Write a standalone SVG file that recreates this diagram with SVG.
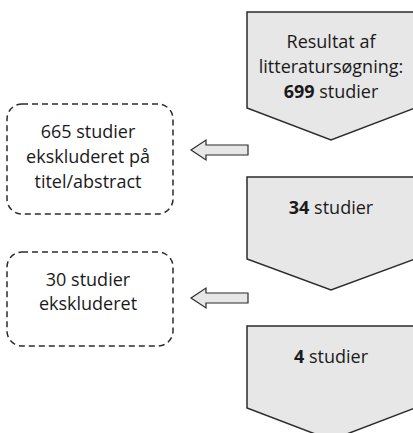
<svg xmlns="http://www.w3.org/2000/svg" width="413" height="433" viewBox="0 0 413 433">
<style>
.step{fill:#e7e7e8;stroke:#2b2b2b;stroke-width:1.5}
.excl{fill:#ffffff;stroke:#2b2b2b;stroke-width:1.5;stroke-dasharray:6 4}
.arr{fill:#e7e7e8;stroke:#2b2b2b;stroke-width:1.2}
text{font-family:"Open Sans","Liberation Sans",sans-serif;font-size:18px;fill:#1a1a1a;text-anchor:middle}
.b{font-weight:bold}
</style>
<rect width="413" height="433" fill="#ffffff"/>
<g id="step1">
<polygon class="step" points="247,12 415,12 415,108 331,140 247,108"/>
<text x="331" y="48">Resultat af</text>
<text x="331" y="73">litteratursøgning:</text>
<text x="331" y="98"><tspan class="b">699</tspan> studier</text>
</g>
<g id="step2">
<polygon class="step" points="247,177 415,177 415,259 331,290 247,259"/>
<text x="331" y="214"><tspan class="b">34</tspan> studier</text>
</g>
<g id="step3">
<polygon class="step" points="247,326 415,326 415,408 331,440 247,408"/>
<text x="331" y="363"><tspan class="b">4</tspan> studier</text>
</g>
<g id="excl1">
<rect class="excl" x="7" y="104" width="166" height="110" rx="15"/>
<text x="88" y="138">665 studier</text>
<text x="88" y="163">ekskluderet på</text>
<text x="88" y="188">titel/abstract</text>
</g>
<g id="excl2">
<rect class="excl" x="7" y="252" width="166" height="94" rx="15"/>
<text x="88" y="286">30 studier</text>
<text x="88" y="310">ekskluderet</text>
</g>
<g id="connectors">
<polygon class="arr" points="248,145 206,145 206,140 191,150 206,160 206,155 248,155"/>
<polygon class="arr" points="248,293 206,293 206,288 191,298 206,308 206,303 248,303"/>
</g>
</svg>
